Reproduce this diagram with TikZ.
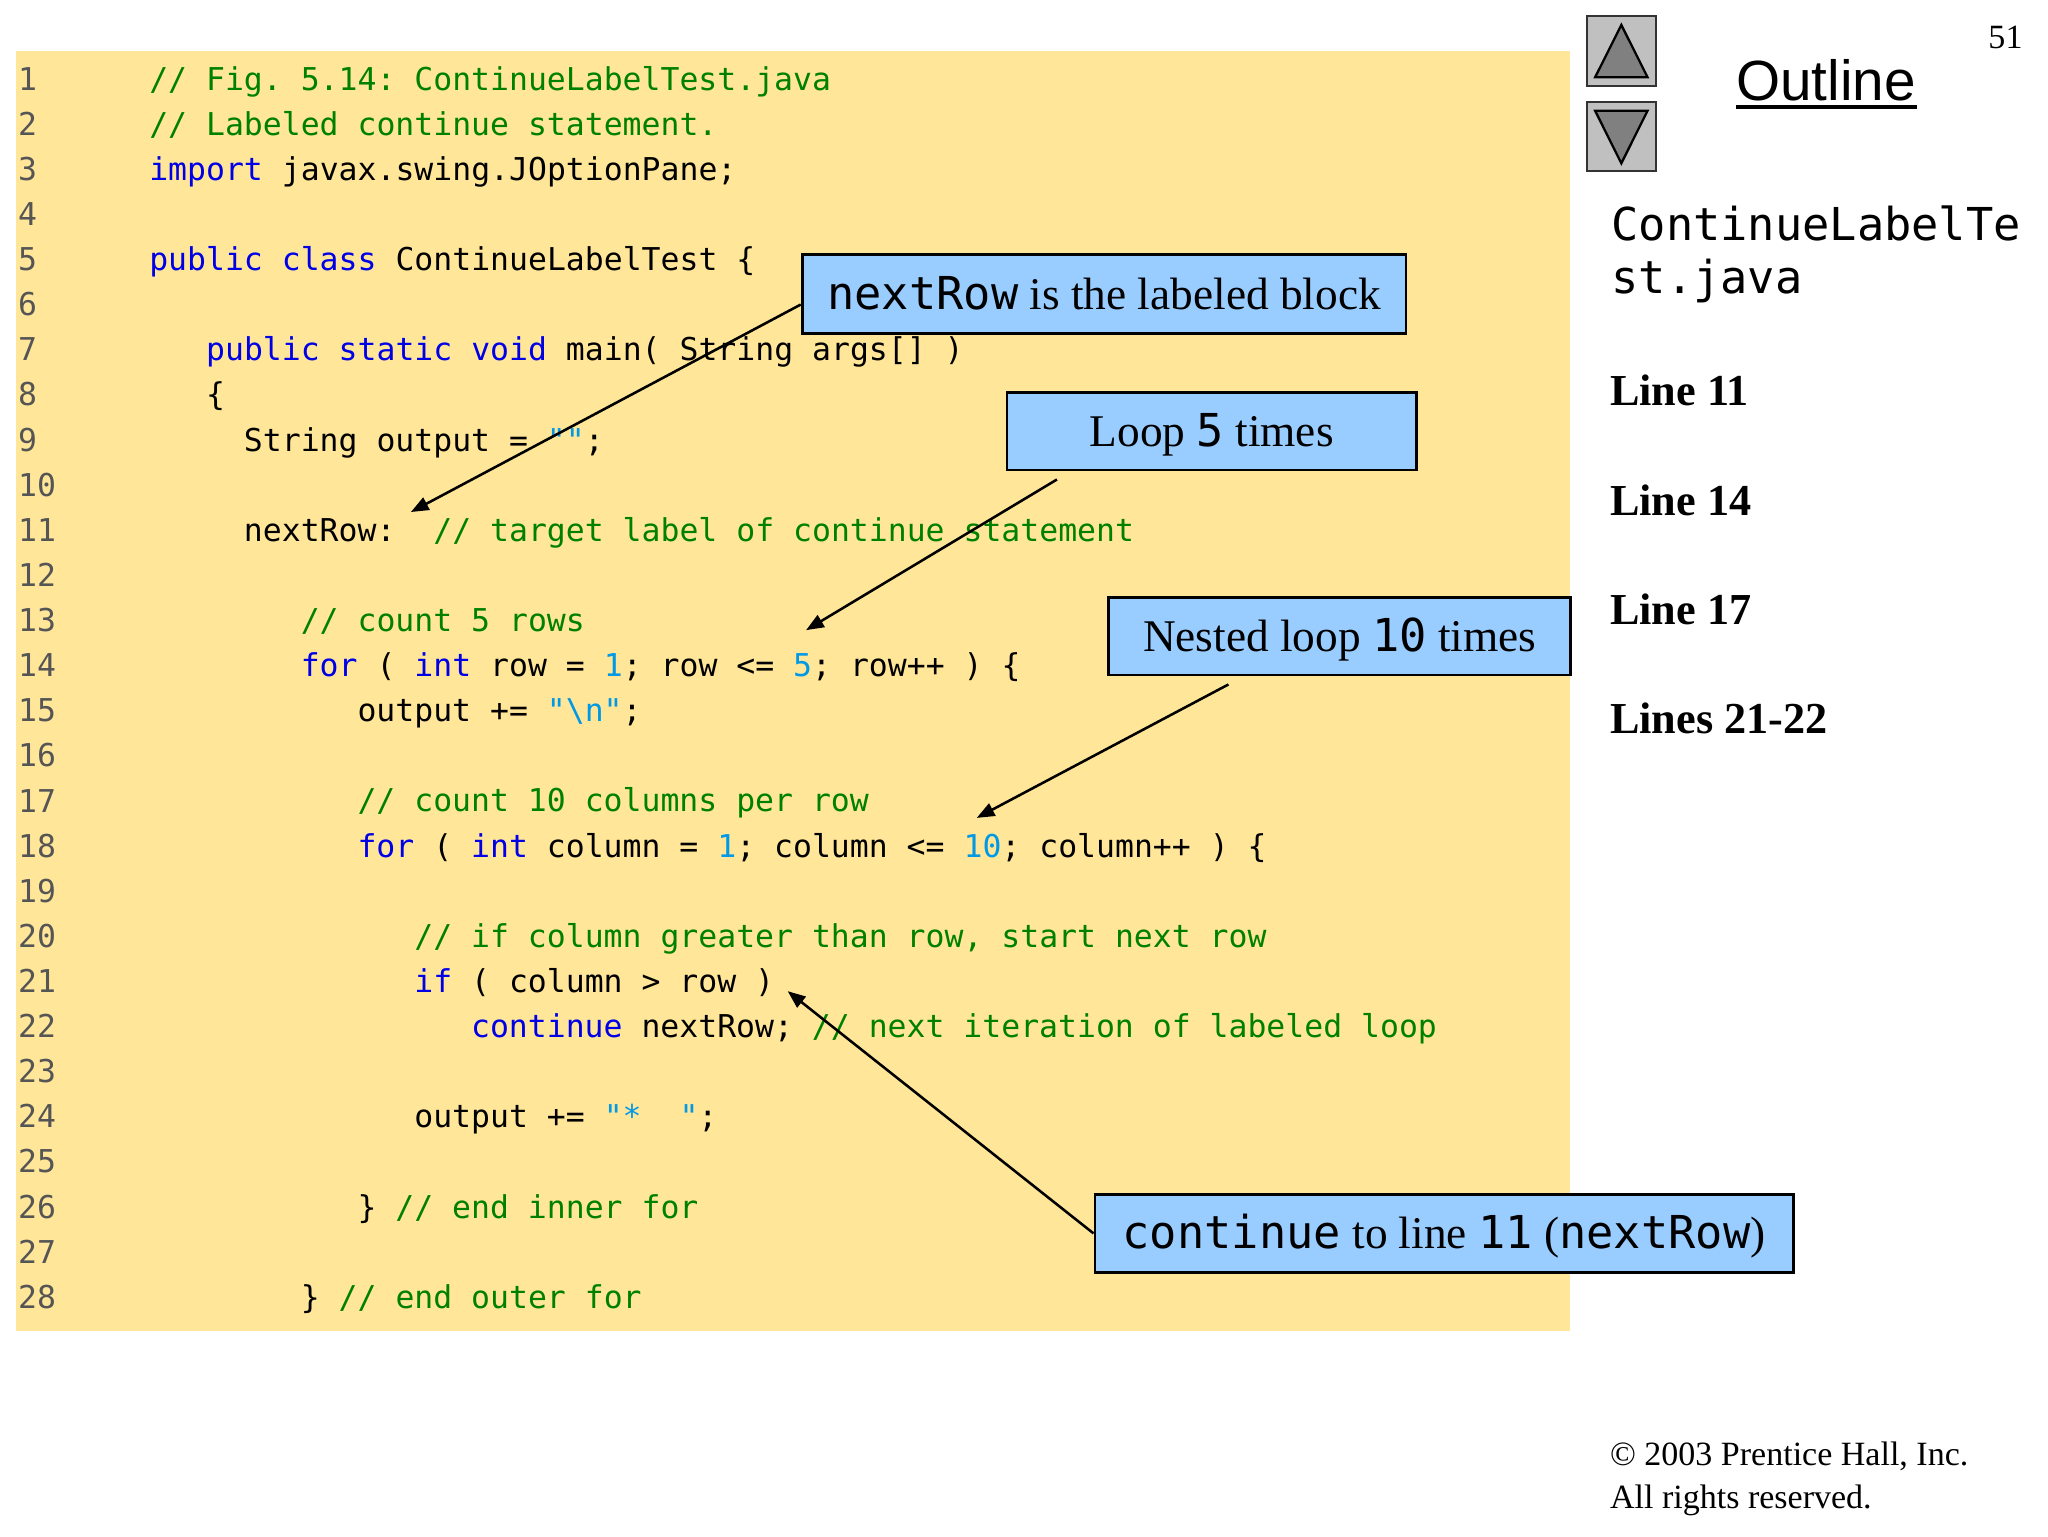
\documentclass[tikz,border=0pt]{standalone}
\usepackage{fontspec}
\setmainfont{Liberation Serif}
\setsansfont{Liberation Sans}
\setmonofont{DejaVu Sans Mono}
\usetikzlibrary{arrows.meta}

\definecolor{codebg}{RGB}{255,230,153}
\definecolor{callbg}{RGB}{153,204,255}
\definecolor{jkwblue}{RGB}{0,0,230}
\definecolor{jgreen}{RGB}{0,128,0}
\definecolor{jcyan}{RGB}{0,153,230}
\definecolor{lngray}{RGB}{85,85,85}
\definecolor{btngray}{RGB}{192,192,192}
\definecolor{trigray}{RGB}{128,128,128}

\newcommand{\jkw}[1]{\textcolor{jkwblue}{#1}}
\newcommand{\jcm}[1]{\textcolor{jgreen}{#1}}
\newcommand{\jlit}[1]{\textcolor{jcyan}{#1}}

\tikzset{
  code/.style={anchor=base west, inner sep=0pt, font=\ttfamily\fontsize{11.1}{13}\selectfont},
  lnum/.style={code, text=lngray},
  callout/.style={draw=black, line width=1pt, fill=callbg, inner sep=0pt,
    text height=0.5cm, text depth=0.128cm, font=\fontsize{16}{19}\selectfont},
  side/.style={anchor=base west, inner sep=0pt},
  pointer/.style={line width=0.9pt, -{Triangle[length=0.22cm,width=0.17cm]}},
  btn/.style={draw=black!80, line width=0.8pt, fill=btngray},
  tri/.style={draw=black, line width=0.8pt, fill=trigray}
}

\begin{document}
\frenchspacing
\begin{tikzpicture}[x=0.016282cm, y=-0.016282cm]
 \useasboundingbox (0,0) rectangle (1560,1170);
 \fill[codebg] (12,38.6) rectangle (1196,1014);

 % line numbers
 \foreach \k in {1,...,28}
   \node[lnum] (n\k) at (13.4,{68.6+34.37*(\k-1)}) {\k};

 % code
 \node[code] (c1) at (113.3,68.6) {\jcm{// Fig. 5.14: ContinueLabelTest.java}};
 \node[code] (c2) at (113.3,103.0) {\jcm{// Labeled continue statement.}};
 \node[code] (c3) at (113.3,137.3) {\jkw{import} javax.swing.JOptionPane;};
 \node[code] (c5) at (113.3,206.1) {\jkw{public class} ContinueLabelTest \{};
 \node[code] (c7) at (156.6,274.8) {\jkw{public static void} main( String args[] )};
 \node[code] (c8) at (156.6,309.2) {\{};
 \node[code] (c9) at (185.4,343.6) {String output = \jlit{""};};
 \node[code] (c11) at (185.4,412.3) {nextRow:\ \ \jcm{// target label of continue statement}};
 \node[code] (c13) at (228.7,481.0) {\jcm{// count 5 rows}};
 \node[code] (c14) at (228.7,515.4) {\jkw{for} ( \jkw{int} row = \jlit{1}; row <= \jlit{5}; row++ ) \{};
 \node[code] (c15) at (271.9,549.8) {output += \jlit{"\textbackslash n"};};
 \node[code] (c17) at (271.9,618.5) {\jcm{// count 10 columns per row}};
 \node[code] (c18) at (271.9,652.9) {\jkw{for} ( \jkw{int} column = \jlit{1}; column <= \jlit{10}; column++ ) \{};
 \node[code] (c20) at (315.2,721.6) {\jcm{// if column greater than row, start next row}};
 \node[code] (c21) at (315.2,756.0) {\jkw{if} ( column > row )};
 \node[code] (c22) at (358.4,790.4) {\jkw{continue} nextRow; \jcm{// next iteration of labeled loop}};
 \node[code] (c24) at (315.2,859.1) {output += \jlit{"*\ \ "};};
 \node[code] (c26) at (271.9,927.9) {\} \jcm{// end inner for}};
 \node[code] (c28) at (228.7,996.6) {\} \jcm{// end outer for}};

 % callouts
 \node[callout, minimum width=7.49cm, minimum height=0.977cm] (nrow) at (841,224)
   {\texttt{nextRow} is the labeled block};
 \node[callout, minimum width=5.08cm, minimum height=0.961cm] (loop5) at (923,328.5)
   {Loop \texttt{5} times};
 \node[callout, minimum width=5.73cm, minimum height=0.961cm] (nest10) at (1020.5,484.6)
   {Nested loop \texttt{10} times};
 \node[callout, minimum width=8.66cm, minimum height=0.961cm] (cont) at (1100,939.5)
   {\texttt{continue} to line \texttt{11} (\texttt{nextRow})};

 \coordinate (tnrow) at (313,390);
 \coordinate (tloop) at (614,480);
 \coordinate (tnest) at (744,623);
 \coordinate (tcont) at (600,755);
 \draw[pointer] ([yshift=-0.13cm]nrow.west) -- (tnrow);
 \draw[pointer] ([xshift=-1.92cm,yshift=-0.1cm]loop5.south) -- (tloop);
 \draw[pointer] ([xshift=-1.38cm,yshift=-0.1cm]nest10.south) -- (tnest);
 \draw[pointer] (cont.west) -- (tcont);

 % outline panel
 \draw[btn] (1208.6,12.2) rectangle (1261.5,65.3);
 \draw[tri] (1215,58.9) -- (1255,58.9) -- (1235,19) -- cycle;
 \draw[btn] (1208.6,77.5) rectangle (1261.5,130.3);
 \draw[tri] (1215,84.3) -- (1255,84.3) -- (1235,124.4) -- cycle;

 \node[anchor=base, inner sep=0pt, font=\sffamily\fontsize{20}{24}\selectfont] (outline) at (1391,76.2) {Outline};
 \draw[line width=1.4pt] ([yshift=-2.6pt]outline.base west) -- ([yshift=-2.6pt]outline.base east);
 \node[anchor=base east, inner sep=0pt, font=\fontsize{12}{14}\selectfont] (pnum) at (1541,36.8) {51};

 \node[side, font=\ttfamily\fontsize{16}{19}\selectfont] (fname1) at (1227,183.3) {ContinueLabelTe};
 \node[side, font=\ttfamily\fontsize{16}{19}\selectfont] (fname2) at (1227,223.4) {st.java};
 \node[side, font=\bfseries\fontsize{15.6}{18}\selectfont] (l11) at (1226,309) {Line 11};
 \node[side, font=\bfseries\fontsize{15.6}{18}\selectfont] (l14) at (1226,392.3) {Line 14};
 \node[side, font=\bfseries\fontsize{15.6}{18}\selectfont] (l17) at (1226,475.6) {Line 17};
 \node[side, font=\bfseries\fontsize{15.6}{18}\selectfont] (l2122) at (1226,558.6) {Lines 21-22};

 \node[side, font=\fontsize{12}{14}\selectfont] (copy1) at (1226,1116) {© 2003 Prentice Hall, Inc.};
 \node[side, font=\fontsize{12}{14}\selectfont] (copy2) at (1226,1149) {All rights reserved.};
\end{tikzpicture}
\end{document}
